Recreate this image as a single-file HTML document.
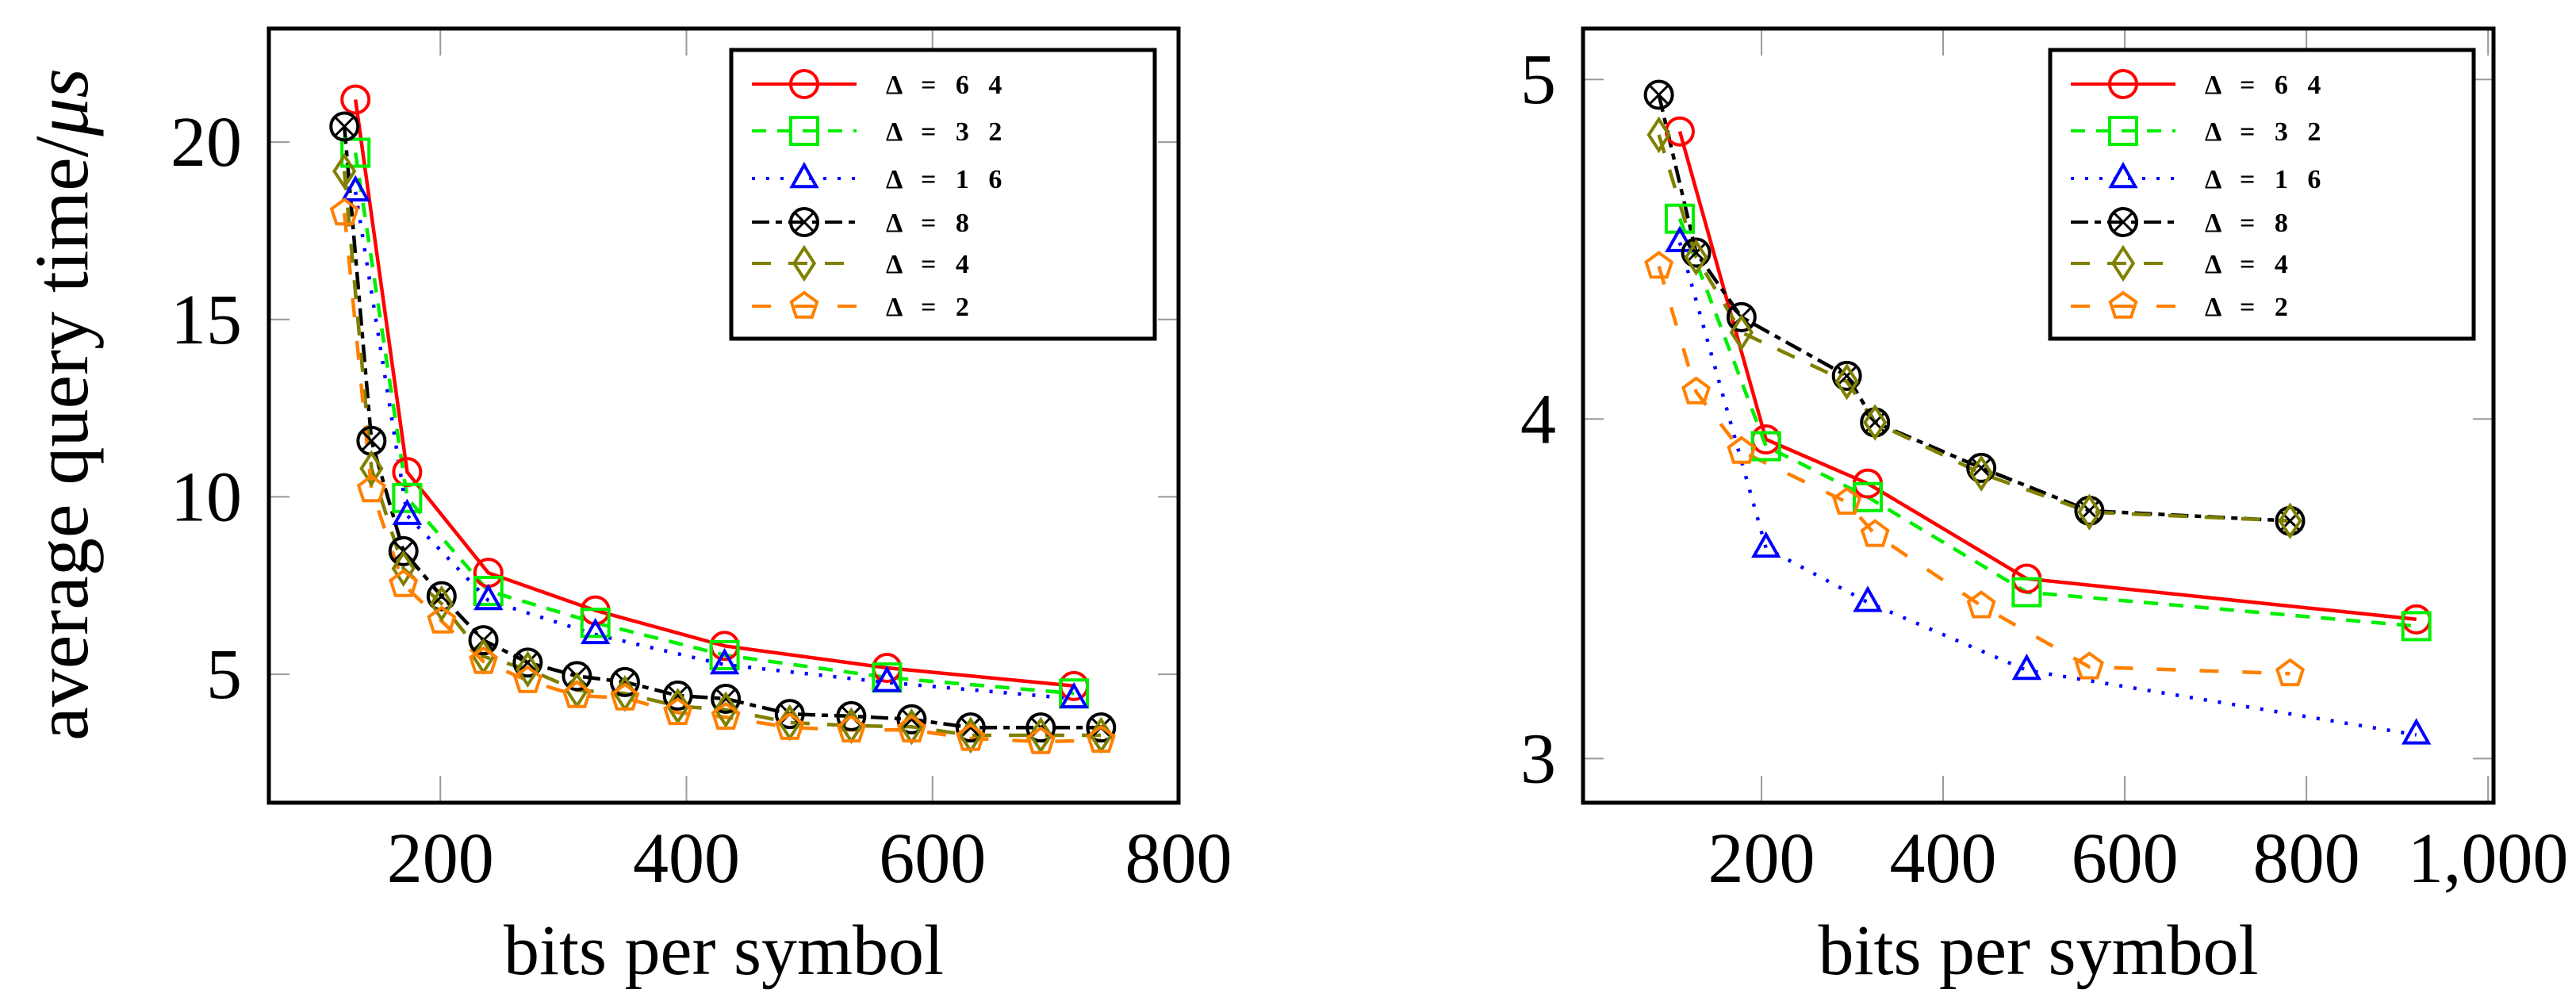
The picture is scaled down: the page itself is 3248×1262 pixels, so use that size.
<!DOCTYPE html>
<html><head><meta charset="utf-8"><style>
html,body{margin:0;padding:0;background:#fff;}
svg{display:block;}
text{font-family:"Liberation Serif",serif;}
</style></head><body>
<svg id="fig" width="3248" height="1262" viewBox="0 0 3248 1262" xmlns="http://www.w3.org/2000/svg"></svg>
<script>
// ---- Left chart data ----
const leftX64=[131,173,239,326,431,563,715];
const leftY64=[21.2,10.7,7.86,6.8,5.8,5.18,4.67];
const leftY32=[19.7,9.97,7.35,6.45,5.54,4.91,4.46];
const leftY16=[18.6,9.48,7.08,6.12,5.27,4.77,4.31];
const leftXsmall=[122,144,170,201,235,271,311,350,393,432,484,534,583,631,688,737];
const leftY8=[20.44,11.58,8.47,7.2,5.96,5.33,4.95,4.78,4.4,4.31,3.88,3.82,3.73,3.5,3.5,3.5];
const leftY4=[19.18,10.8,7.98,6.99,5.5,5.14,4.55,4.46,4.1,4.0,3.64,3.55,3.52,3.28,3.28,3.28];
const leftY2=[18.0,10.2,7.53,6.5,5.36,4.82,4.4,4.33,3.92,3.79,3.5,3.43,3.43,3.19,3.1,3.14];
const leftXTicks=[200,400,600,800];
const leftYTicks=[5,10,15,20];
// ---- Right chart data ----
const rightX64=[110,205,317,492,921];
const rightY64=[4.847,3.94,3.81,3.53,3.41];
const rightY32=[4.59,3.92,3.77,3.49,3.39];
const rightY16=[4.52,3.62,3.46,3.26,3.07];
const rightXsmall=[87,128,178,294,325,442,561,782];
const rightY8=[4.955,4.49,4.30,4.127,3.99,3.856,3.73,3.70];
const rightY4=[4.837,4.476,4.255,4.11,3.99,3.84,3.726,3.70];
const rightY2=[4.45,4.08,3.905,3.755,3.66,3.45,3.27,3.25];
const rightXTicks=[200,400,600,800,1000];
const rightXTickLabels=["200","400","600","800","1,000"];
const rightYTicks=[3,4,5];
const legendLabels=["Δ = 6 4","Δ = 3 2","Δ = 1 6","Δ = 8","Δ = 4","Δ = 2"];

const NS="http://www.w3.org/2000/svg";
const svg=document.getElementById('fig');
function mk(tag,attrs,parent){const e=document.createElementNS(NS,tag);for(const k in attrs)e.setAttribute(k,attrs[k]);(parent||svg).appendChild(e);return e;}

const styles=[
 {c:"#ff0000",dash:"",m:"circle"},
 {c:"#00ee00",dash:"18 14",m:"square"},
 {c:"#0000ff",dash:"4 14",m:"triangle"},
 {c:"#000000",dash:"22 8 8 8",m:"otimes"},
 {c:"#808000",dash:"24 22",m:"diamond"},
 {c:"#ff8000",dash:"24 30",m:"pentagon"}
];

function marker(g,type,x,y,c){
  const r=17,sw=4;
  if(type==="circle") mk('circle',{cx:x,cy:y,r:r,fill:'none',stroke:c,'stroke-width':sw},g);
  else if(type==="square") mk('rect',{x:x-r,y:y-r,width:2*r,height:2*r,fill:'none',stroke:c,'stroke-width':sw},g);
  else if(type==="triangle") mk('polygon',{points:`${x},${y-r} ${x+r*0.9},${y+r*0.6} ${x-r*0.9},${y+r*0.6}`,fill:'none',stroke:c,'stroke-width':sw},g);
  else if(type==="otimes"){mk('circle',{cx:x,cy:y,r:r,fill:'none',stroke:c,'stroke-width':sw},g);
    const d=r*0.7;mk('path',{d:`M${x-d} ${y-d}L${x+d} ${y+d}M${x+d} ${y-d}L${x-d} ${y+d}`,stroke:c,'stroke-width':sw-1},g);}
  else if(type==="diamond") mk('polygon',{points:`${x},${y-r*1.15} ${x+r*0.75},${y} ${x},${y+r*1.15} ${x-r*0.75},${y}`,fill:'none',stroke:c,'stroke-width':sw},g);
  else if(type==="pentagon"){let p=[];for(let i=0;i<5;i++){const a=-Math.PI/2+i*2*Math.PI/5;p.push((x+r*Math.cos(a)).toFixed(1)+","+(y+r*Math.sin(a)).toFixed(1));}
    mk('polygon',{points:p.join(' '),fill:'none',stroke:c,'stroke-width':sw},g);}
}

function chart(opt){
  const g=mk('g',{});
  
  
  const X=v=>opt.L+(v-opt.xmin)/(opt.xmax-opt.xmin)*(opt.R-opt.L);
  const Y=v=>opt.B-(v-opt.ymin)/(opt.ymax-opt.ymin)*(opt.B-opt.T);
  opt.xt.forEach((t,i)=>{const x=X(t);
    mk('line',{x1:x,y1:opt.T,x2:x,y2:opt.T+34,stroke:'#999','stroke-width':2},g);
    mk('line',{x1:x,y1:opt.B,x2:x,y2:opt.B-34,stroke:'#999','stroke-width':2},g);
    const tx=mk('text',{x:x,y:opt.B+100,'font-size':90,'text-anchor':'middle'},g);tx.textContent=opt.xl[i];
    
    
  });
  opt.yt.forEach(t=>{const y=Y(t);
    mk('line',{x1:opt.L,y1:y,x2:opt.L+26,y2:y,stroke:'#999','stroke-width':2},g);
    mk('line',{x1:opt.R,y1:y,x2:opt.R-26,y2:y,stroke:'#999','stroke-width':2},g);
    const tx=mk('text',{x:opt.L-34,y:y+30,'font-size':90,'text-anchor':'end'},g);tx.textContent=String(t);
    
    
  });
  const clip='clip'+opt.name;
  const cp=mk('clipPath',{id:clip},g);mk('rect',{x:opt.L,y:opt.T,width:opt.R-opt.L,height:opt.B-opt.T},cp);
  const sg=mk('g',{'clip-path':`url(#${clip})`},g);
  opt.series.forEach((s,i)=>{const st=styles[i];
    const pts=s.x.map((xv,j)=>X(xv).toFixed(1)+","+Y(s.y[j]).toFixed(1)).join(' ');
    const pl=mk('polyline',{points:pts,fill:'none',stroke:st.c,'stroke-width':4.5,'stroke-dasharray':st.dash},sg);
    
    
  });
  opt.series.forEach((s,i)=>{const st=styles[i];
    s.x.forEach((xv,j)=>marker(sg,st.m,X(xv),Y(s.y[j]),st.c));
  });
  const fr=mk('rect',{x:opt.L,y:opt.T,width:opt.R-opt.L,height:opt.B-opt.T,fill:'none',stroke:'#000','stroke-width':5},g);
  
  
  const lg=mk('g',{},g);
  
  
  const lx=opt.legX;
  mk('rect',{x:lx,y:63,width:534,height:364,fill:'#fff',stroke:'#000','stroke-width':5},lg);
  const rows=[106,165,225,280,332,386];
  styles.forEach((st,i)=>{const y=rows[i];
    const e=mk('g',{},lg);
    
    
    mk('line',{x1:lx+26,y1:y,x2:lx+158,y2:y,stroke:st.c,'stroke-width':4,'stroke-dasharray':st.dash},e);
    marker(e,st.m,lx+92,y,st.c);
    const t=mk('text',{x:lx+195,y:y+12,'font-size':34,'font-weight':'bold','letter-spacing':'8'},e);t.textContent=legendLabels[i];
  });
  const xt=mk('text',{x:(opt.L+opt.R)/2,y:1228,'font-size':90,'text-anchor':'middle'},g);xt.textContent="bits per symbol";
  
  
}

chart({name:'left-chart',L:339,R:1486,T:36,B:1012,xmin:60.6,xmax:800,ymin:1.38,ymax:23.2,
  xt:leftXTicks,xl:leftXTicks.map(String),yt:leftYTicks,legX:922,
  series:[{x:leftX64,y:leftY64},{x:leftX64,y:leftY32},{x:leftX64,y:leftY16},{x:leftXsmall,y:leftY8},{x:leftXsmall,y:leftY4},{x:leftXsmall,y:leftY2}]});
chart({name:'right-chart',L:1996,R:3144,T:36,B:1012,xmin:3.5,xmax:1006,ymin:2.87,ymax:5.15,
  xt:rightXTicks,xl:rightXTickLabels,yt:rightYTicks,legX:2585,
  series:[{x:rightX64,y:rightY64},{x:rightX64,y:rightY32},{x:rightX64,y:rightY16},{x:rightXsmall,y:rightY8},{x:rightXsmall,y:rightY4},{x:rightXsmall,y:rightY2}]});

const yl=mk('text',{x:0,y:0,'font-size':96,'text-anchor':'middle',transform:'translate(110,510) rotate(-90)'});
yl.textContent="average query time/";
const mu=mk('tspan',{'font-style':'italic'},yl);mu.textContent="μs";


</script>
</body></html>
